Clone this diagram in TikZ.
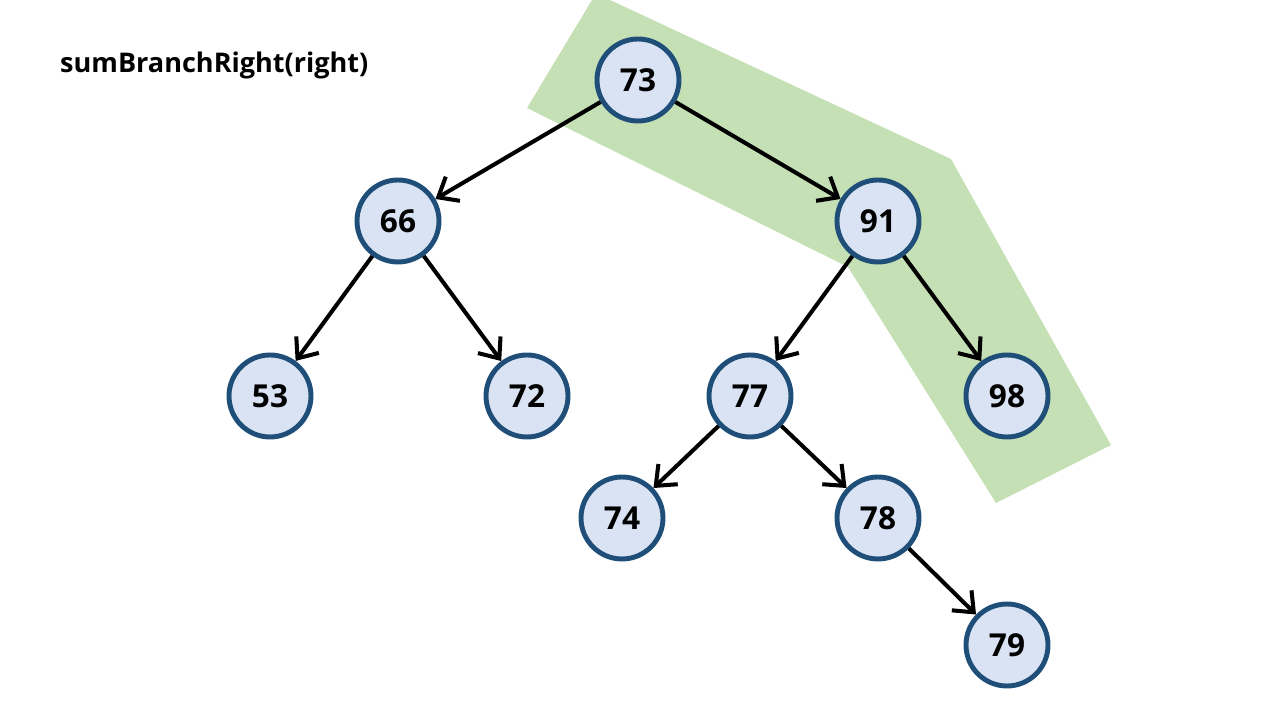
\documentclass[tikz,border=0pt]{standalone}
\usepackage{fontspec}
\setmainfont{Open Sans}
\usepackage{tikz}
\usetikzlibrary{arrows.meta}
\definecolor{pathgreen}{HTML}{C5E0B4}
\definecolor{nodefill}{HTML}{DAE3F3}
\definecolor{nodeline}{HTML}{1F4E79}

\begin{document}
\begin{tikzpicture}[
		treenode/.style={circle, draw=nodeline, fill=nodefill, line width=2.8pt, minimum size=1.64cm, inner sep=0pt, font=\fontsize{18}{21}\selectfont\bfseries},
		edge/.style={line width=2.3pt, -{Straight Barb[length=3.4mm, width=5.6mm, line width=2.3pt]}}
	]
		\useasboundingbox (0, 0) rectangle (25.6, 14.4);
		\fill[pathgreen] (11.84, 14.4) to (10.54, 12.24) to (16.96, 9.06) to (19.92, 4.34) to (22.22, 5.5) to (19.02, 11.22) to (12.2, 14.4) to cycle;
		\node[anchor=west, font=\fontsize{15.4}{18}\selectfont\bfseries] (title) at (1.08, 13.1) {sumBranchRight(right)};
		\node[treenode] (n73) at (12.76, 12.8) {73};
		\node[treenode] (n66) at (7.96, 9.98) {66};
		\node[treenode] (n91) at (17.56, 9.98) {91};
		\node[treenode] (n53) at (5.4, 6.48) {53};
		\node[treenode] (n72) at (10.54, 6.48) {72};
		\node[treenode] (n77) at (15.0, 6.48) {77};
		\node[treenode] (n98) at (20.14, 6.48) {98};
		\node[treenode] (n74) at (12.44, 4.04) {74};
		\node[treenode] (n78) at (17.56, 4.04) {78};
		\node[treenode] (n79) at (20.14, 1.5) {79};
		\foreach \a/\b in {n73/n66, n73/n91, n66/n53, n66/n72, n91/n77, n91/n98, n77/n74, n77/n78, n78/n79}
			\draw[edge] (\a) to (\b);
	\end{tikzpicture}
\end{document}
